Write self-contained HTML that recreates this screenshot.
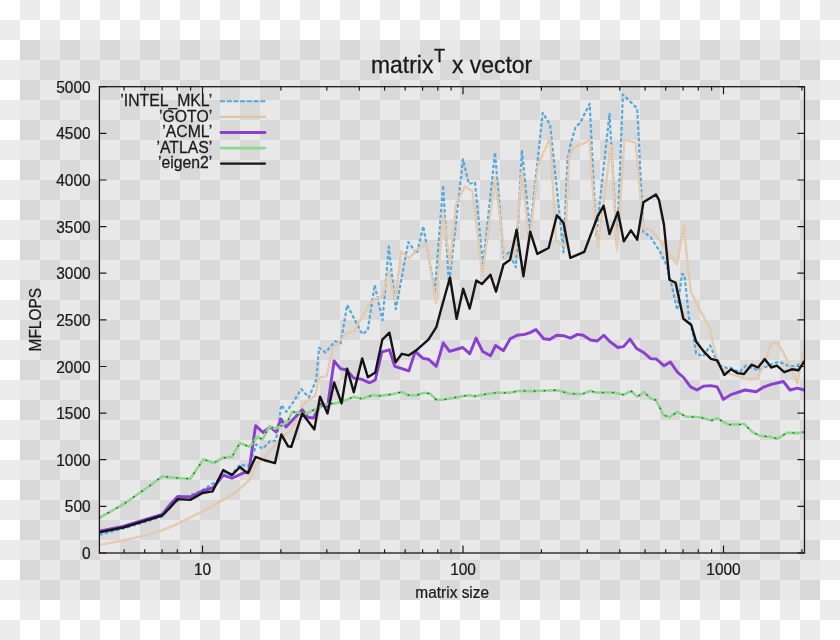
<!DOCTYPE html>
<html><head><meta charset="utf-8"><style>
html,body{margin:0;padding:0;width:840px;height:640px;overflow:hidden;background:#fff}
svg{display:block}
.t{font-family:"Liberation Sans",Arial,sans-serif;font-size:16px;fill:#1a1a1a;stroke:#1a1a1a;stroke-width:0.25px}
.ti{font-family:"Liberation Sans",Arial,sans-serif;font-size:24px;fill:#1a1a1a;stroke:#1a1a1a;stroke-width:0.3px}
.ts{font-family:"Liberation Sans",Arial,sans-serif;font-size:19px;fill:#1a1a1a;stroke:#1a1a1a;stroke-width:0.3px}
</style></head><body>
<svg width="840" height="640" viewBox="0 0 840 640">
<defs>
<pattern id="po" width="40" height="40" patternUnits="userSpaceOnUse"><rect width="40" height="40" fill="#fefefe"/><rect x="20" width="20" height="20" fill="#ececec"/><rect y="20" width="20" height="20" fill="#ececec"/></pattern>
<pattern id="pi" width="40" height="40" patternUnits="userSpaceOnUse"><rect width="40" height="40" fill="#e8e8e8"/><rect x="20" width="20" height="20" fill="#d9d9d9"/><rect y="20" width="20" height="20" fill="#d9d9d9"/></pattern>
<clipPath id="clip"><rect x="99.4" y="83.7" width="705.1" height="469.3"/></clipPath>
</defs>
<rect width="840" height="640" fill="url(#po)"/>
<rect x="20" y="40" width="800" height="560" fill="url(#pi)"/>
<path d="M99.4 553.0h7M804.5 553.0h-7M99.4 506.4h7M804.5 506.4h-7M99.4 459.7h7M804.5 459.7h-7M99.4 413.1h7M804.5 413.1h-7M99.4 366.5h7M804.5 366.5h-7M99.4 319.9h7M804.5 319.9h-7M99.4 273.2h7M804.5 273.2h-7M99.4 226.6h7M804.5 226.6h-7M99.4 180.0h7M804.5 180.0h-7M99.4 133.3h7M804.5 133.3h-7M99.4 86.7h7M804.5 86.7h-7M124.1 553.0v-3.8M124.1 86.7v3.8M144.7 553.0v-3.8M144.7 86.7v3.8M162.1 553.0v-3.8M162.1 86.7v3.8M177.3 553.0v-3.8M177.3 86.7v3.8M190.6 553.0v-3.8M190.6 86.7v3.8M202.5 553.0v-7.5M202.5 86.7v7.5M280.9 553.0v-3.8M280.9 86.7v3.8M326.8 553.0v-3.8M326.8 86.7v3.8M359.3 553.0v-3.8M359.3 86.7v3.8M384.6 553.0v-3.8M384.6 86.7v3.8M405.2 553.0v-3.8M405.2 86.7v3.8M422.6 553.0v-3.8M422.6 86.7v3.8M437.8 553.0v-3.8M437.8 86.7v3.8M451.1 553.0v-3.8M451.1 86.7v3.8M463.0 553.0v-7.5M463.0 86.7v7.5M541.4 553.0v-3.8M541.4 86.7v3.8M587.3 553.0v-3.8M587.3 86.7v3.8M619.8 553.0v-3.8M619.8 86.7v3.8M645.1 553.0v-3.8M645.1 86.7v3.8M665.7 553.0v-3.8M665.7 86.7v3.8M683.1 553.0v-3.8M683.1 86.7v3.8M698.3 553.0v-3.8M698.3 86.7v3.8M711.6 553.0v-3.8M711.6 86.7v3.8M723.5 553.0v-7.5M723.5 86.7v7.5M801.9 553.0v-3.8M801.9 86.7v3.8" stroke="#1a1a1a" stroke-width="1.2" fill="none"/>
<g clip-path="url(#clip)">
<polyline points="99.4,535.0 123.0,528.5 145.0,522.0 162.5,516.5 175.0,502.0 190.3,495.4 202.5,490.0 216.7,481.2 225.0,472.0 232.0,474.0 240.0,464.6 249.2,466.0 256.3,444.4 262.5,448.8 270.0,441.3 275.0,441.0 277.5,433.8 281.3,405.0 286.3,411.9 293.8,401.3 301.3,389.0 308.8,397.5 316.3,379.7 319.1,347.8 325.6,352.5 335.0,341.3 340.6,343.4 347.2,305.0 362.2,334.1 367.8,330.3 374.7,285.0 382.5,320.2 388.8,246.7 395.8,309.2 408.3,242.0 416.9,253.8 423.2,226.2 434.9,290.6 443.1,185.2 449.0,285.0 463.0,159.4 468.8,183.8 475.0,182.5 483.0,266.0 495.0,152.5 503.8,257.5 508.8,252.5 515.9,267.3 521.9,150.0 530.0,232.0 542.7,112.8 550.1,124.7 563.5,252.4 567.5,160.0 570.9,142.8 575.6,127.2 580.3,122.5 589.7,103.8 596.2,235.5 609.5,113.8 617.0,244.4 622.9,94.5 637.2,108.4 643.4,231.9 650.6,237.1 660.0,251.7 666.6,265.0 671.9,286.3 677.2,310.0 682.0,274.0 684.5,275.0 689.0,318.0 693.0,334.0 696.1,353.3 703.1,356.4 710.2,345.5 714.1,354.8 718.8,365.0 727.3,368.1 730.0,367.5 739.4,372.2 745.9,365.6 758.1,370.3 775.0,362.8 779.6,361.9 790.0,366.5 797.4,365.6 804.0,360.0" fill="none" stroke="#52a9dc" stroke-width="2.2" stroke-dasharray="3.6 2.1" stroke-linejoin="round"/>
<polyline points="99.4,545.0 123.5,540.4 145.0,535.5 162.0,530.5 175.0,525.0 190.0,517.5 202.3,511.5 216.0,504.0 230.7,495.5 240.0,488.5 249.4,480.0 255.0,466.0 265.0,456.9 281.3,437.5 290.0,431.3 293.8,425.0 303.1,404.0 315.3,395.6 319.1,377.8 326.6,376.0 333.1,346.9 335.0,346.3 346.3,333.1 353.8,331.3 370.0,303.0 377.8,297.5 382.5,296.7 388.8,270.9 395.0,300.6 401.3,251.4 409.0,258.4 416.9,249.8 426.7,243.7 436.0,303.0 443.1,212.1 450.0,264.4 456.0,203.9 465.0,186.3 472.5,191.3 482.5,275.0 495.0,177.5 505.0,257.5 515.0,255.0 521.9,170.7 529.3,243.5 538.2,164.8 550.1,138.1 556.0,240.5 565.0,246.5 568.0,180.0 569.4,155.3 574.0,147.5 589.7,140.5 592.5,185.0 597.7,247.4 611.0,144.9 617.0,250.4 624.4,140.0 635.6,142.8 643.4,228.8 649.7,229.0 660.0,240.6 668.0,252.0 677.0,264.0 683.8,225.0 688.0,268.0 691.0,292.0 700.0,310.0 710.0,329.0 714.5,350.0 720.6,367.5 730.0,374.0 739.4,376.8 750.6,379.7 757.2,378.7 764.7,361.9 771.2,343.1 777.8,343.1 786.2,358.1 797.4,383.4 803.1,350.6" fill="none" stroke="#e2c3a5" stroke-width="2.2" stroke-linejoin="round"/>
<polyline points="99.4,545.0 123.5,540.4 145.0,535.5 162.0,530.5 175.0,525.0 190.0,517.5 202.3,511.5 216.0,504.0 230.7,495.5 240.0,488.5 249.4,480.0 255.0,466.0 265.0,456.9 281.3,437.5 290.0,431.3 293.8,425.0 303.1,404.0 315.3,395.6 319.1,377.8 326.6,376.0 333.1,346.9 335.0,346.3 346.3,333.1 353.8,331.3 370.0,303.0 377.8,297.5 382.5,296.7 388.8,270.9 395.0,300.6 401.3,251.4 409.0,258.4 416.9,249.8 426.7,243.7 436.0,303.0 443.1,212.1 450.0,264.4 456.0,203.9 465.0,186.3 472.5,191.3 482.5,275.0 495.0,177.5 505.0,257.5 515.0,255.0 521.9,170.7 529.3,243.5 538.2,164.8 550.1,138.1 556.0,240.5 565.0,246.5 568.0,180.0 569.4,155.3 574.0,147.5 589.7,140.5 592.5,185.0 597.7,247.4 611.0,144.9 617.0,250.4 624.4,140.0 635.6,142.8 643.4,228.8 649.7,229.0 660.0,240.6 668.0,252.0 677.0,264.0 683.8,225.0 688.0,268.0 691.0,292.0 700.0,310.0 710.0,329.0 714.5,350.0 720.6,367.5 730.0,374.0 739.4,376.8 750.6,379.7 757.2,378.7 764.7,361.9 771.2,343.1 777.8,343.1 786.2,358.1 797.4,383.4 803.1,350.6" fill="none" stroke="#fbefe4" stroke-width="0.8" stroke-dasharray="1 2" stroke-linejoin="round"/>
<polyline points="99.4,531.1 123.0,526.5 162.2,514.5 170.0,504.6 177.7,496.4 190.3,497.0 202.5,491.0 213.7,487.3 223.2,475.1 231.9,478.2 243.1,473.1 248.8,471.9 255.6,425.6 263.1,432.5 270.0,427.0 276.0,432.0 281.0,419.0 286.0,427.0 290.0,422.8 302.2,409.7 307.8,417.2 313.4,418.1 320.9,404.1 327.5,406.9 334.1,360.9 340.6,368.8 346.3,369.7 353.8,378.1 361.3,379.1 369.7,382.8 375.3,380.0 381.9,351.9 389.4,349.8 394.8,366.3 408.9,370.9 415.2,351.4 423.0,358.4 428.4,359.2 436.3,366.3 443.3,342.8 449.5,351.4 462.8,347.5 469.8,353.8 476.1,338.1 482.7,351.5 490.5,355.8 495.6,345.5 503.4,350.7 510.2,338.7 517.1,335.2 524.8,334.4 530.0,332.6 536.0,329.6 543.7,338.7 549.7,339.5 556.6,335.2 563.5,335.7 570.4,338.1 577.5,334.4 583.1,335.3 590.6,340.0 597.2,341.0 603.8,335.3 610.3,341.9 617.8,347.5 623.5,346.6 630.0,339.1 636.6,348.5 643.2,352.2 650.7,358.6 656.3,359.0 664.1,365.8 670.3,361.9 677.3,372.0 683.6,377.5 690.6,386.9 696.9,390.0 703.9,386.1 710.9,385.6 717.2,386.9 723.4,399.4 730.9,394.6 745.0,390.0 756.2,391.8 763.7,387.1 771.2,384.3 783.4,381.5 790.0,390.0 797.4,388.1 804.0,390.0" fill="none" stroke="#8a3fd0" stroke-width="2.9" stroke-linejoin="round" stroke-linecap="round"/>
<polyline points="99.4,517.8 123.1,504.5 136.4,495.2 149.7,485.8 162.2,476.4 170.0,477.2 180.2,478.2 190.3,478.8 203.5,459.3 213.7,463.0 222.8,457.9 231.9,456.9 240.0,443.0 249.4,446.9 257.5,436.9 262.5,439.4 269.4,426.3 275.0,428.8 282.8,425.1 288.3,420.0 292.2,411.8 298.4,412.6 305.0,414.0 318.0,408.0 327.0,404.0 335.0,403.4 344.4,400.6 353.8,396.9 362.2,398.8 372.5,395.0 380.0,395.9 390.9,394.4 401.9,392.0 408.1,395.2 416.7,395.2 423.8,392.8 430.0,393.6 436.3,399.8 442.5,399.8 451.1,398.3 459.7,396.7 468.3,395.2 475.0,396.2 485.3,394.2 495.6,392.8 509.4,392.8 519.7,390.7 531.7,391.1 543.7,390.7 555.8,390.2 560.9,391.1 568.6,393.6 582.2,394.1 590.6,390.7 595.3,392.6 606.6,392.6 613.2,392.6 623.5,394.8 631.0,391.0 637.5,396.7 644.1,392.0 650.7,398.6 656.3,400.2 663.3,415.0 669.5,417.3 677.3,411.9 685.9,416.6 700.0,417.3 711.7,420.5 717.2,418.1 723.4,422.0 729.1,424.6 738.4,424.6 744.0,423.7 752.5,432.1 760.0,435.9 769.3,436.8 777.8,438.7 787.1,432.7 797.4,433.1 804.0,432.1" fill="none" stroke="#8cd88c" stroke-width="2.6" stroke-linejoin="round" stroke-linecap="round"/>
<polyline points="99.4,517.8 123.1,504.5 136.4,495.2 149.7,485.8 162.2,476.4 170.0,477.2 180.2,478.2 190.3,478.8 203.5,459.3 213.7,463.0 222.8,457.9 231.9,456.9 240.0,443.0 249.4,446.9 257.5,436.9 262.5,439.4 269.4,426.3 275.0,428.8 282.8,425.1 288.3,420.0 292.2,411.8 298.4,412.6 305.0,414.0 318.0,408.0 327.0,404.0 335.0,403.4 344.4,400.6 353.8,396.9 362.2,398.8 372.5,395.0 380.0,395.9 390.9,394.4 401.9,392.0 408.1,395.2 416.7,395.2 423.8,392.8 430.0,393.6 436.3,399.8 442.5,399.8 451.1,398.3 459.7,396.7 468.3,395.2 475.0,396.2 485.3,394.2 495.6,392.8 509.4,392.8 519.7,390.7 531.7,391.1 543.7,390.7 555.8,390.2 560.9,391.1 568.6,393.6 582.2,394.1 590.6,390.7 595.3,392.6 606.6,392.6 613.2,392.6 623.5,394.8 631.0,391.0 637.5,396.7 644.1,392.0 650.7,398.6 656.3,400.2 663.3,415.0 669.5,417.3 677.3,411.9 685.9,416.6 700.0,417.3 711.7,420.5 717.2,418.1 723.4,422.0 729.1,424.6 738.4,424.6 744.0,423.7 752.5,432.1 760.0,435.9 769.3,436.8 777.8,438.7 787.1,432.7 797.4,433.1 804.0,432.1" fill="none" stroke="#2a4a2a" stroke-width="1.3" stroke-dasharray="0.6 9.4" stroke-linecap="round"/>
<polyline points="99.4,532.2 123.1,527.5 162.2,515.5 170.0,507.6 177.7,499.1 190.3,499.9 202.5,493.0 212.6,491.4 223.2,470.0 231.9,475.1 240.0,467.0 245.0,471.3 248.1,473.1 255.6,456.9 263.8,460.0 275.0,463.1 281.3,434.4 288.1,446.3 291.3,446.9 302.2,413.4 314.4,429.4 320.0,396.6 327.5,413.4 334.1,382.5 341.6,403.4 347.2,368.8 353.8,392.2 362.2,358.4 367.8,377.2 375.3,372.5 382.3,339.7 389.4,332.7 395.6,362.3 401.9,353.8 408.9,355.3 415.9,350.6 428.4,339.7 436.3,327.2 440.9,310.0 450.0,277.5 456.6,318.8 463.2,288.8 469.7,308.5 476.3,280.4 481.9,284.1 490.4,274.7 496.0,291.6 503.5,264.4 510.1,259.7 516.6,229.7 523.4,276.2 530.2,231.6 537.3,253.9 548.6,248.0 556.9,215.3 563.5,222.7 570.3,257.8 584.3,251.9 597.7,216.2 603.6,205.8 609.5,234.0 617.9,211.8 623.8,241.3 630.9,230.3 637.2,239.7 643.4,202.2 655.9,194.4 659.0,200.0 664.0,225.0 669.4,279.7 675.6,282.8 683.4,318.8 691.3,325.0 696.1,341.6 703.9,351.7 710.9,358.8 717.2,360.3 724.3,375.0 730.9,369.3 737.5,373.1 744.0,374.0 751.5,364.7 758.1,367.5 764.7,359.0 771.2,367.5 776.8,365.6 784.3,372.2 791.8,369.3 798.4,370.3 804.0,361.9" fill="none" stroke="#141414" stroke-width="2.4" stroke-linejoin="round" stroke-linecap="round"/>
</g>
<rect x="99.4" y="86.7" width="705.1" height="466.3" fill="none" stroke="#1a1a1a" stroke-width="1.3"/>
<line x1="220" y1="101.2" x2="266" y2="101.2" stroke="#52a9dc" stroke-width="2.1" stroke-dasharray="5.1 1.6"/>
<line x1="220" y1="116.8" x2="266" y2="116.8" stroke="#e2c3a5" stroke-width="2.2"/>
<line x1="221" y1="132.5" x2="265" y2="132.5" stroke="#8a3fd0" stroke-width="2.9" stroke-linecap="round"/>
<line x1="221" y1="148.1" x2="265" y2="148.1" stroke="#8cd88c" stroke-width="2.8" stroke-linecap="round"/>
<line x1="221" y1="163.6" x2="265" y2="163.6" stroke="#141414" stroke-width="2.2" stroke-linecap="round"/>
<text transform="translate(212.2 106.0) scale(0.985,1)" text-anchor="end" class="t">’INTEL_MKL’</text>
<text transform="translate(212.2 121.6) scale(0.985,1)" text-anchor="end" class="t">’GOTO’</text>
<text transform="translate(212.2 137.3) scale(0.985,1)" text-anchor="end" class="t">’ACML’</text>
<text transform="translate(212.2 152.9) scale(0.985,1)" text-anchor="end" class="t">’ATLAS’</text>
<text transform="translate(212.2 168.4) scale(0.985,1)" text-anchor="end" class="t">’eigen2’</text>
<text transform="translate(90.6 559.0) scale(0.965,1)" text-anchor="end" class="t">0</text>
<text transform="translate(90.6 512.4) scale(0.965,1)" text-anchor="end" class="t">500</text>
<text transform="translate(90.6 465.7) scale(0.965,1)" text-anchor="end" class="t">1000</text>
<text transform="translate(90.6 419.1) scale(0.965,1)" text-anchor="end" class="t">1500</text>
<text transform="translate(90.6 372.5) scale(0.965,1)" text-anchor="end" class="t">2000</text>
<text transform="translate(90.6 325.9) scale(0.965,1)" text-anchor="end" class="t">2500</text>
<text transform="translate(90.6 279.2) scale(0.965,1)" text-anchor="end" class="t">3000</text>
<text transform="translate(90.6 232.6) scale(0.965,1)" text-anchor="end" class="t">3500</text>
<text transform="translate(90.6 186.0) scale(0.965,1)" text-anchor="end" class="t">4000</text>
<text transform="translate(90.6 139.3) scale(0.965,1)" text-anchor="end" class="t">4500</text>
<text transform="translate(90.6 92.7) scale(0.965,1)" text-anchor="end" class="t">5000</text>
<text transform="translate(202.5 574.6) scale(0.965,1)" text-anchor="middle" class="t">10</text>
<text transform="translate(463.0 574.6) scale(0.965,1)" text-anchor="middle" class="t">100</text>
<text transform="translate(723.5 574.6) scale(0.965,1)" text-anchor="middle" class="t">1000</text>
<text transform="translate(452.2 597.6) scale(0.965,1)" text-anchor="middle" class="t">matrix size</text>
<text transform="translate(40.6 319.7) rotate(-90) scale(0.965,1)" text-anchor="middle" class="t">MFLOPS</text>
<text transform="translate(371 73) scale(0.955,1)" class="ti">matrix</text><text transform="translate(434 61.5) scale(0.955,1)" class="ts">T</text><text transform="translate(452 73) scale(0.955,1)" class="ti">x vector</text>
</svg>
</body></html>
